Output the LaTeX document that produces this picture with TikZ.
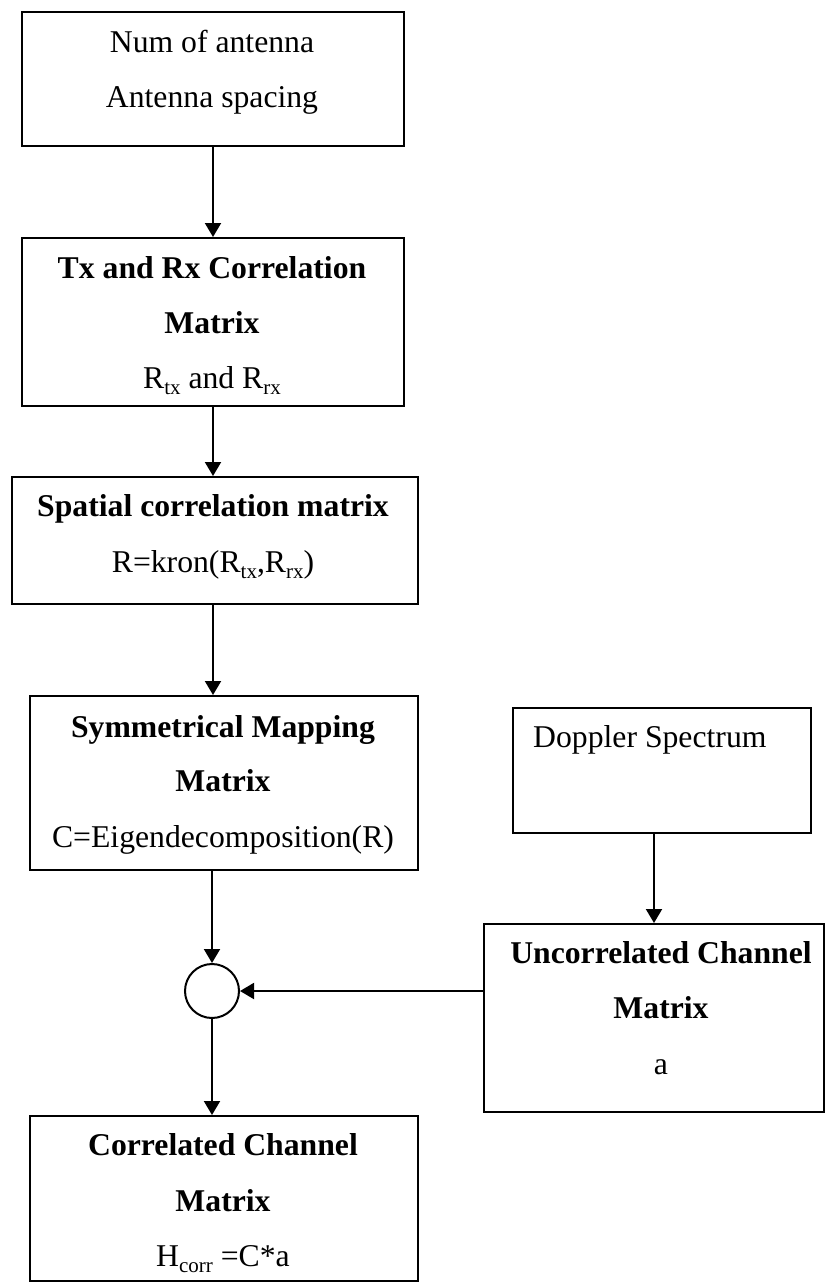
\documentclass[tikz,border=0pt]{standalone}
\usepackage{fontspec}
\setmainfont{Liberation Serif}
\usetikzlibrary{arrows.meta}
% lowered, smaller text used for matrix indices
\newcommand\lowsub[1]{\raisebox{-0.22em}{\fontsize{21}{21}\selectfont #1}}
\begin{document}
\begin{tikzpicture}[x=1pt,y=-1pt,
  box/.style={draw,line width=2pt,inner sep=0pt,anchor=north west,rectangle},
  lbl/.style={anchor=base,inner sep=0pt,font=\fontsize{31.7}{38}\selectfont},
  hd/.style={lbl,font=\fontsize{31.7}{38}\selectfont\bfseries},
  arr/.style={line width=2pt,-{Triangle[length=14pt,width=16pt]}},
  mulnode/.style={draw,circle,line width=2pt,minimum size=54pt,inner sep=0pt}]
\useasboundingbox (0,0) rectangle (825,1282);

% boxes
\node[box,minimum width=382pt,minimum height=134pt] (ant) at (21,11) {};
\node[box,minimum width=382pt,minimum height=168pt] (tx)  at (21,237) {};
\node[box,minimum width=406pt,minimum height=127pt] (sp)  at (11,476) {};
\node[box,minimum width=388pt,minimum height=174pt] (sym) at (29,695) {};
\node[box,minimum width=388pt,minimum height=165pt] (out) at (29,1115) {};
\node[box,minimum width=298pt,minimum height=125pt] (dop) at (512,707) {};
\node[box,minimum width=340pt,minimum height=188pt] (unc) at (483,923) {};
\node[mulnode] (mul) at (212,991) {};

% box texts
\node[lbl] (t1a) at (212,52)  {Num of antenna};
\node[lbl] (t1b) at (212,107) {Antenna spacing};
\node[hd]  (t2a) at (212,278) {Tx and Rx Correlation};
\node[hd]  (t2b) at (212,333) {Matrix};
\node[lbl] (t2c) at (212,388) {R\lowsub{tx} and R\lowsub{rx}};
\node[hd]  (t3a) at (213,516) {Spatial correlation matrix};
\node[lbl] (t3b) at (213,572) {R=kron(R\lowsub{tx},R\lowsub{rx})};
\node[hd]  (t4a) at (223,737) {Symmetrical Mapping};
\node[hd]  (t4b) at (223,791) {Matrix};
\node[lbl] (t4c) at (223,847) {C=Eigendecomposition(R)};
\node[hd]  (t6a) at (223,1155) {Correlated Channel};
\node[hd]  (t6b) at (223,1211) {Matrix};
\node[lbl] (t6c) at (223,1266) {H\lowsub{corr} =C*a};
\node[lbl,anchor=base west] (t7) at (533,747) {Doppler Spectrum};
\node[hd]  (t5a) at (661,963)  {Uncorrelated Channel};
\node[hd]  (t5b) at (661,1018) {Matrix};
\node[lbl] (t5c) at (661,1074) {a};

% connectors
\draw[arr] (ant.south) -- (tx.north);
\draw[arr] (tx.south) -- (tx.south |- sp.north);
\draw[arr] (tx.south |- sp.south) -- (tx.south |- sym.north);
\draw[arr] (mul.north |- sym.south) -- (mul.north);
\draw[arr] (mul.south) -- (mul.south |- out.north);
\draw[arr] (dop.south -| unc.north) -- (unc.north);
\draw[arr] (unc.west |- mul.east) -- (mul.east);
\end{tikzpicture}
\end{document}
